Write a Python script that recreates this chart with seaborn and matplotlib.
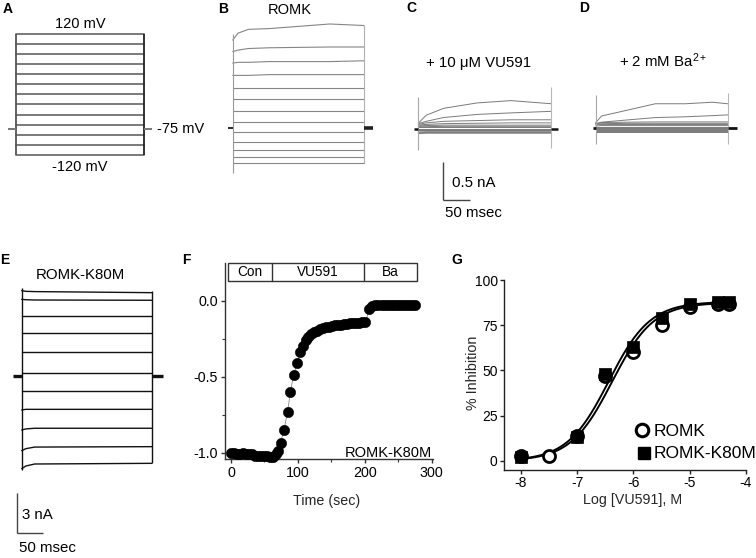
import matplotlib
matplotlib.use("Agg")
import matplotlib.pyplot as plt
from matplotlib.patches import Rectangle
import numpy as np
import pandas as pd
import seaborn as sns

# ------------------------------------------------------------------
# Data
# ------------------------------------------------------------------
# A: voltage-step protocol
step_voltages_mV = [120, 100, 80, 60, 40, 20, 0, -20, -40, -60, -80, -100, -120]
hold_level_mV = -68          # level of the holding-potential ticks as drawn
pulse_ms = 250

# B: ROMK current traces (nA) sampled at these times (ms)
romk_times_ms = [0, 10, 30, 70, 185, 250]
romk_traces_nA = [
    [1.15, 1.24, 1.29, 1.30, 1.36, 1.34],
    [1.00, 1.02, 1.04, 1.05, 1.06, 1.06],
    [0.85, 0.86, 0.86, 0.87, 0.87, 0.88],
    [0.69, 0.69, 0.69, 0.70, 0.70, 0.70],
    [0.53, 0.53, 0.53, 0.53, 0.53, 0.53],
    [0.38, 0.38, 0.38, 0.38, 0.38, 0.38],
    [0.23, 0.23, 0.23, 0.23, 0.23, 0.23],
    [0.08, 0.08, 0.08, 0.08, 0.08, 0.08],
    [-0.05, -0.05, -0.05, -0.05, -0.05, -0.05],
    [-0.18, -0.18, -0.18, -0.18, -0.18, -0.18],
    [-0.28, -0.28, -0.28, -0.28, -0.28, -0.28],
    [-0.37, -0.37, -0.37, -0.37, -0.37, -0.37],
    [-0.45, -0.45, -0.45, -0.45, -0.45, -0.45],
]

# C: + 10 uM VU591
vu_times_ms = [0, 15, 48, 111, 175, 250]
vu_traces_nA = [
    [0.075, 0.18, 0.27, 0.34, 0.37, 0.33],
    [0.07, 0.10, 0.15, 0.19, 0.21, 0.23],
    [0.06, 0.08, 0.10, 0.11, 0.12, 0.12],
    [0.05, 0.06, 0.07, 0.075, 0.08, 0.08],
    [0.04, 0.045, 0.05, 0.05, 0.05, 0.05],
    [0.03, 0.03, 0.035, 0.035, 0.035, 0.035],
    [0.02, 0.02, 0.02, 0.02, 0.02, 0.02],
    [0.005, 0.005, 0.005, 0.005, 0.005, 0.005],
    [-0.01, -0.01, -0.01, -0.01, -0.01, -0.01],
    [-0.025, -0.02, -0.02, -0.02, -0.02, -0.02],
    [-0.04, -0.035, -0.035, -0.035, -0.035, -0.035],
    [-0.05, -0.045, -0.045, -0.045, -0.045, -0.045],
    [-0.06, -0.055, -0.055, -0.055, -0.055, -0.055],
]

# D: + 2 mM Ba2+
ba_times_ms = [0, 11, 62, 113, 170, 221, 250]
ba_traces_nA = [
    [0.074, 0.16, 0.24, 0.32, 0.32, 0.34, 0.32],
    [0.06, 0.08, 0.11, 0.14, 0.15, 0.165, 0.175],
    [0.06, 0.075, 0.08, 0.083, 0.083, 0.083, 0.083],
    [0.055, 0.06, 0.065, 0.065, 0.065, 0.065, 0.065],
    [0.045, 0.05, 0.05, 0.05, 0.05, 0.05, 0.05],
    [0.03, 0.035, 0.035, 0.035, 0.035, 0.035, 0.035],
    [0.02, 0.02, 0.02, 0.02, 0.02, 0.02, 0.02],
    [0.01, 0.01, 0.01, 0.01, 0.01, 0.01, 0.01],
    [0.0, 0.0, 0.0, 0.0, 0.0, 0.0, 0.0],
    [-0.015, -0.015, -0.015, -0.015, -0.015, -0.015, -0.015],
    [-0.025, -0.025, -0.025, -0.025, -0.025, -0.025, -0.025],
    [-0.035, -0.035, -0.035, -0.035, -0.035, -0.035, -0.035],
    [-0.045, -0.045, -0.045, -0.045, -0.045, -0.045, -0.045],
]

# E: ROMK-K80M current traces (nA)
k80m_times_ms = [0, 8, 25, 250]
k80m_traces_nA = [
    [6.40, 6.35, 6.33, 6.25],
    [5.75, 5.72, 5.70, 5.68],
    [4.50, 4.50, 4.50, 4.50],
    [3.20, 3.20, 3.20, 3.20],
    [1.82, 1.82, 1.82, 1.82],
    [0.25, 0.25, 0.25, 0.25],
    [-1.10, -1.10, -1.10, -1.10],
    [-2.55, -2.50, -2.50, -2.50],
    [-4.05, -3.97, -3.92, -3.92],
    [-5.60, -5.45, -5.33, -5.30],
    [-6.95, -6.75, -6.60, -6.55],
]

# F: normalized ROMK-K80M current vs time
time_F_s = [0, 4.5, 9, 13.5, 18, 22.5, 27, 31.5, 36, 40.5, 45, 49.5, 54, 58.5,
            63, 67, 70.6, 74, 79, 84.6, 88.6, 93.5, 99, 103.5, 107.5, 111.4,
            115.5, 120, 124.5, 129, 133.5, 138, 142.5, 147, 151.5, 156, 160.5,
            165, 169.5, 174, 178.5, 183, 187.5, 192, 196.5, 201, 207, 211.5,
            216, 220.5, 225, 229.5, 234, 238.5, 243, 247.5, 252, 256.5, 261,
            265.5, 270, 274.5]
current_F = [-1.00, -1.00, -1.01, -1.01, -1.00, -1.01, -1.01, -1.01, -1.02,
             -1.02, -1.02, -1.02, -1.02, -1.03, -1.03, -1.01, -0.985, -0.934,
             -0.849, -0.731, -0.602, -0.49, -0.405, -0.339, -0.298, -0.258,
             -0.235, -0.215, -0.205, -0.195, -0.185, -0.178, -0.172, -0.168,
             -0.164, -0.160, -0.157, -0.155, -0.152, -0.150, -0.148, -0.146,
             -0.144, -0.142, -0.138, -0.140, -0.050, -0.030, -0.026, -0.027,
             -0.025, -0.026, -0.026, -0.025, -0.027, -0.026, -0.025, -0.026,
             -0.027, -0.026, -0.026, -0.027]
period_labels = ["Con", "VU591", "Ba"]
period_edges_s = [-4.1, 61, 199, 278.7]

# G: concentration-response
logc_romk = [-8, -7.5, -7, -6.5, -6, -5.5, -5, -4.5, -4.3]
inhib_romk = [3, 2.5, 14, 47, 60, 75, 85, 86.5, 87]
logc_k80m = [-8, -7, -6.5, -6, -5.5, -5, -4.5, -4.3]
inhib_k80m = [2, 13.5, 48, 63, 79, 87, 88, 88]
# Hill-fit parameters (top, log IC50, Hill coefficient)
fit_romk = (87.5, -6.38, 1.18)
fit_k80m = (88.0, -6.44, 1.18)

# ------------------------------------------------------------------
sns.set_theme(style="white")
plt.rcParams["font.family"] = ["Liberation Sans", "DejaVu Sans"]
plt.rcParams["axes.unicode_minus"] = False
plt.rcParams["mathtext.fontset"] = "custom"
plt.rcParams["mathtext.rm"] = "Liberation Sans"
plt.rcParams["mathtext.it"] = "Liberation Sans:italic"
plt.rcParams["mathtext.bf"] = "Liberation Sans:bold"

W, H = 756, 558
fig = plt.figure(figsize=(W / 100, H / 100), dpi=100)
fig.patch.set_facecolor("white")


def add_ax(l, t, r, b):
    return fig.add_axes([l / W, 1 - b / H, (r - l) / W, (b - t) / H])


def ftext(px, py, s, size=10.5, ha="center", va="center", **kw):
    fig.text(px / W, 1 - py / H, s, fontsize=size, ha=ha, va=va, color="black", **kw)


def trace_ax(l, t, r, b, x0_px, ppx_x, y0_px, ppx_y):
    ax = add_ax(l, t, r, b)
    lims = ((l - x0_px) / ppx_x, (r - x0_px) / ppx_x,
            (y0_px - b) / ppx_y, (y0_px - t) / ppx_y)
    ax.axis("off")
    return ax, lims


def apply_lims(ax, lims):
    ax.set_xlim(lims[0], lims[1])
    ax.set_ylim(lims[2], lims[3])


def draw_traces(ax, times, rows, color, lw):
    recs = []
    for k, row in enumerate(rows):
        for tt, v in zip(times, row):
            recs.append((k, tt, v))
    df = pd.DataFrame(recs, columns=["trace", "t", "I"])
    sns.lineplot(data=df, x="t", y="I", units="trace", estimator=None,
                 color=color, lw=lw, ax=ax, legend=False)
    for ln in ax.lines:
        ln.set_clip_on(False)


def seg(ax, xs, ys, color, lw):
    ax.plot(xs, ys, color=color, lw=lw, clip_on=False, solid_capstyle="butt")


# ---------------- A ----------------
axA, limA = trace_ax(0, 15, 215, 175, 16, 128 / pulse_ms, 94.35, 121.3 / 240)
stepA = pd.DataFrame([(v, tt, v) for v in step_voltages_mV for tt in (0, pulse_ms)],
                     columns=["level", "t", "V"])
sns.lineplot(data=stepA, x="t", y="V", units="level", estimator=None,
             color="#6f6f6f", lw=1.3, ax=axA, legend=False)
seg(axA, [0, 0], [-120, 120], "#555555", 1.3)
seg(axA, [pulse_ms, pulse_ms], [-120, 120], "#222222", 1.3)
seg(axA, [-15, 0], [hold_level_mV, hold_level_mV], "#777777", 1.4)
seg(axA, [pulse_ms, pulse_ms + 15], [hold_level_mV, hold_level_mV], "#777777", 1.4)
apply_lims(axA, limA)
axA.axis("off")

# ---------------- B ----------------
axB, limB = trace_ax(215, 18, 385, 180, 232.7, 131.3 / pulse_ms, 128.3, 76.7)
draw_traces(axB, romk_times_ms, romk_traces_nA, "#858585", 0.8)
seg(axB, [0, 0], [1.23, -0.58], "#9a9a9a", 0.8)
seg(axB, [pulse_ms, pulse_ms], [1.35, -0.45], "#b0b0b0", 0.8)
seg(axB, [-8, 0], [0, 0], "#333333", 1.5)
seg(axB, [pulse_ms, pulse_ms + 18], [0, 0], "#222222", 2.6)
apply_lims(axB, limB)
axB.axis("off")

# ---------------- C ----------------
ppx_C = 132.4 / pulse_ms
axC, limC = trace_ax(405, 80, 570, 225, 418.3, ppx_C, 129, 76.7)
draw_traces(axC, vu_times_ms, vu_traces_nA, "#7a7a7a", 0.7)
seg(axC, [0, 0], [0.42, -0.27], "#a8a8a8", 0.8)
seg(axC, [pulse_ms, pulse_ms], [0.55, -0.25], "#b8b8b8", 0.8)
seg(axC, [-8, 0], [0, 0], "#111111", 1.8)
seg(axC, [pulse_ms, pulse_ms + 13], [0, 0], "#111111", 1.8)
# scale bar 0.5 nA / 50 ms
sb_t = (443.3 - 418.3) / ppx_C
sb_top = (129 - 161.7) / 76.7
seg(axC, [sb_t, sb_t], [sb_top, sb_top - 0.5], "#444444", 1.0)
seg(axC, [sb_t, sb_t + 50], [sb_top - 0.5, sb_top - 0.5], "#444444", 1.0)
apply_lims(axC, limC)
axC.axis("off")

# ---------------- D ----------------
axD, limD = trace_ax(585, 80, 750, 160, 595.7, 132 / pulse_ms, 128.3, 76.7)
draw_traces(axD, ba_times_ms, ba_traces_nA, "#7a7a7a", 0.7)
seg(axD, [0, 0], [0.44, -0.20], "#a8a8a8", 0.8)
seg(axD, [pulse_ms, pulse_ms], [0.46, -0.20], "#b8b8b8", 0.8)
seg(axD, [-6, 0], [0, 0], "#111111", 2.0)
seg(axD, [pulse_ms, pulse_ms + 18], [0, 0], "#111111", 2.0)
apply_lims(axD, limD)
axD.axis("off")

# ---------------- E ----------------
ppx_E = 130 / pulse_ms
ppy_E = 40 / 3
axE, limE = trace_ax(0, 280, 180, 558, 21.7, ppx_E, 376, ppy_E)
draw_traces(axE, k80m_times_ms, k80m_traces_nA, "#111111", 1.0)
seg(axE, [0, 0], [6.6, -7.05], "#111111", 1.0)
seg(axE, [pulse_ms, pulse_ms], [6.38, -6.53], "#111111", 1.0)
seg(axE, [-16, 0], [0, 0], "#111111", 2.4)
seg(axE, [pulse_ms, pulse_ms + 21], [0, 0], "#111111", 2.4)
sbE_t = (17.3 - 21.7) / ppx_E
sbE_top = (376 - 493.3) / ppy_E
seg(axE, [sbE_t, sbE_t], [sbE_top, sbE_top - 3], "#444444", 1.0)
seg(axE, [sbE_t, sbE_t + 50], [sbE_top - 3, sbE_top - 3], "#444444", 1.0)
apply_lims(axE, limE)
axE.axis("off")

# ---------------- F ----------------
axF = add_ax(225, 263.3, 433, 459)
sns.lineplot(x=time_F_s, y=current_F, ax=axF, color="#8a8a8a", lw=0.6,
             estimator=None, sort=False)
sns.scatterplot(x=time_F_s, y=current_F, ax=axF, color="black", s=55,
                edgecolor="black", linewidth=0.4, zorder=3, clip_on=False)
axF.set_xlim(-9, 302)
axF.set_ylim(-1.04, 0.248)
for sp in ("top", "right"):
    axF.spines[sp].set_visible(False)
for sp in ("left", "bottom"):
    axF.spines[sp].set_color("#333333")
    axF.spines[sp].set_linewidth(1.0)
axF.set_xticks([0, 100, 200, 300])
axF.set_xticks([50, 150, 250], minor=True)
axF.set_yticks([-1.0, -0.5, 0.0])
axF.set_yticklabels(["-1.0", "-0.5", "0.0"])
axF.set_yticks([-0.75, -0.25], minor=True)
axF.tick_params(which="both", direction="out", color="#333333", labelsize=10.3,
                labelcolor="black")
axF.tick_params(which="major", length=3, width=1, pad=2)
axF.tick_params(which="minor", length=2, width=0.8)
axF.tick_params(axis="x", which="both", bottom=True)
axF.tick_params(axis="y", which="both", left=True)
axF.set_xlabel("Time (sec)", fontsize=10.3, va="center")
axF.xaxis.set_label_coords(327 / W, 1 - 501.5 / H, transform=fig.transFigure)
axF.set_ylabel("")
box_bottom, box_top = 0.133, 0.248
axF.add_patch(Rectangle((period_edges_s[0], box_bottom),
                        period_edges_s[-1] - period_edges_s[0], box_top - box_bottom,
                        fill=False, edgecolor="#333333", lw=1.0, clip_on=False))
for e in period_edges_s[1:-1]:
    axF.plot([e, e], [box_bottom, box_top], color="#333333", lw=1.0, clip_on=False)
for lab, a, b in zip(period_labels, period_edges_s[:-1], period_edges_s[1:]):
    axF.text((a + b) / 2, (box_bottom + box_top) / 2, lab, ha="center", va="center",
             fontsize=9.8, color="black")
axF.text(301, -1.0, "ROMK-K80M", ha="right", va="center", fontsize=10.5, color="black")

# ---------------- G ----------------
axG = add_ax(504, 280, 746, 470)
xfit = np.linspace(-8, -4.3, 300)


def hill(x, top, logic50, n):
    return top / (1 + 10 ** ((logic50 - x) * n))


sns.lineplot(x=xfit, y=hill(xfit, *fit_romk), ax=axG, color="black", lw=1.4)
sns.lineplot(x=xfit, y=hill(xfit, *fit_k80m), ax=axG, color="black", lw=1.4)
sns.scatterplot(x=logc_romk, y=inhib_romk, ax=axG, marker="o", s=75, color="white",
                edgecolor="black", linewidth=2.0, zorder=3, clip_on=False)
sns.scatterplot(x=logc_k80m, y=inhib_k80m, ax=axG, marker="s", s=64, color="black",
                edgecolor="black", linewidth=0.5, zorder=4, clip_on=False)
axG.set_xlim(-8.3, -4)
axG.set_ylim(-5, 100)
for sp in ("top", "right"):
    axG.spines[sp].set_visible(False)
for sp in ("left", "bottom"):
    axG.spines[sp].set_color("#222222")
    axG.spines[sp].set_linewidth(1.0)
axG.set_xticks([-8, -7, -6, -5, -4])
axG.set_yticks([0, 25, 50, 75, 100])
axG.tick_params(direction="out", length=3, width=1, pad=1.5, labelsize=10,
                color="#222222", labelcolor="black", bottom=True, left=True)
axG.set_xlabel("Log [VU591], M", fontsize=10.3, va="center")
axG.xaxis.set_label_coords(633 / W, 1 - 500 / H, transform=fig.transFigure)
axG.set_ylabel("% Inhibition", fontsize=10.3, va="center")
axG.yaxis.set_label_coords(473 / W, 1 - 373 / H, transform=fig.transFigure)
# legend keys
lx_c = -8.3 + (641.7 - 504) / 56.25
lx_s = -8.3 + (644.0 - 504) / 56.25
axG.plot([lx_c], [(461 - 430) / 1.81], marker="o", ms=9, mfc="white", mec="black",
         mew=2.2, ls="none", clip_on=False)
axG.plot([lx_s], [(461 - 453) / 1.81], marker="s", ms=8.5, mfc="black", mec="black",
         ls="none", clip_on=False)
ftext(654, 431, "ROMK", size=12.5, ha="left")
ftext(654, 454, "ROMK-K80M", size=12.5, ha="left")

# ---------------- texts ----------------
ftext(80.5, 24, "120 mV")
ftext(80, 167, "-120 mV")
ftext(157, 129, "-75 mV", ha="left")
ftext(290, 10, "ROMK", size=10.5)
ftext(478.5, 63, "+ 10 \u03bcM VU591", size=10.8)
ftext(663, 61, "+ 2 mM Ba$^{2+}$", size=10.8)
ftext(452, 183.3, "0.5 nA", size=10.8, ha="left")
ftext(445, 213.3, "50 msec", size=10.8, ha="left")
ftext(80, 275, "ROMK-K80M", size=10.8)
ftext(21.5, 515, "3 nA", size=10.8, ha="left")
ftext(19, 548, "50 msec", size=10.8, ha="left")

for lab, x, y in [("A", 8, 9), ("B", 223, 9), ("C", 411.5, 8), ("D", 584, 8),
                  ("E", 5, 260), ("F", 186.5, 260), ("G", 457, 260)]:
    ftext(x, y, lab, size=10, weight="bold")

fig.savefig("out.png", dpi=100, facecolor="white")
